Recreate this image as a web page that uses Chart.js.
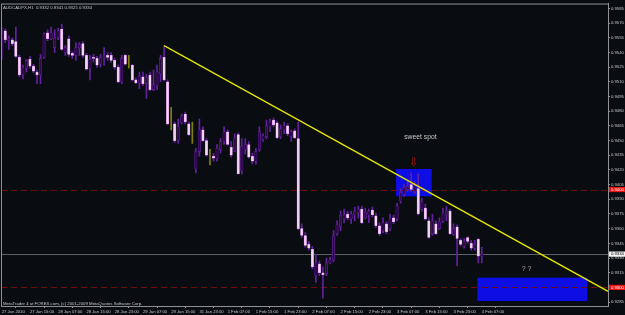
<!DOCTYPE html>
<html><head><meta charset="utf-8">
<script src="https://cdn.jsdelivr.net/npm/chart.js@4.4.1/dist/chart.umd.min.js"></script>
<style>html,body{margin:0;padding:0;background:#090c10;overflow:hidden}canvas{display:block}</style>
</head><body>
<canvas id="c" width="625" height="315"></canvas>
<script>
const chartTitle = "AUDCADPX,H1  0.9332 0.9341 0.9325 0.9334";
const copyright = "MetaTrader 4 at FOREX.com, (c) 2001-2009 MetaQuotes Software Corp.";
const timeLabels = ["27 Jan 2010","27 Jan 15:00","28 Jan 07:00","28 Jan 15:00","28 Jan 23:00","29 Jan 07:00","29 Jan 15:00","31 Jan 23:00","1 Feb 07:00","1 Feb 15:00","1 Feb 23:00","2 Feb 07:00","2 Feb 15:00","2 Feb 23:00","3 Feb 07:00","3 Feb 15:00","3 Feb 23:00","4 Feb 07:00"];
const timeLabelBars = [0,8,16,24,32,40,48,56,64,72,80,88,96,104,112,120,128,136];
const priceTicks = ["0.9585","0.9570","0.9555","0.9540","0.9525","0.9510","0.9495","0.9480","0.9465","0.9450","0.9435","0.9420","0.9405","0.9390","0.9375","0.9360","0.9345","0.9330","0.9315","0.9300","0.9285"];

const opens = [.9540,.9562,.9552,.9553,.9551,.9535,.9517,.9524,.9533,.9526,
.9520,.9517,.9535,.9560,.9554,.9545,.9555,.9564,.9540,.9554,
.9539,.9537,.9545,.9549,.9537,.9524,.9535,.9534,.9528,.9534,
.9537,.9537,.9532,.9525,.9510,.9537,.9530,.9527,.9512,.9509,
.9515,.9508,.9517,.9502,.9506,.9518,.9535,.9510,.9472,.9467,
.9450,.9468,.9477,.9467,.9461,.9421,.9439,.9461,.9450,.9433,
.9434,.9432,.9441,.9449,.9459,.9443,.9439,.9456,.9419,.9441,
.9446,.9434,.9429,.9441,.9451,.9454,.9464,.9471,.9468,.9454,
.9461,.9465,.9454,.9460,.9452,.9360,.9353,.9344,.9339,.9312,
.9324,.9315,.9314,.9325,.9328,.9355,.9362,.9370,.9375,.9370,
.9374,.9376,.9380,.9371,.9374,.9379,.9373,.9363,.9358,.9365,
.9360,.9371,.9370,.9388,.9395,.9400,.9405,.9398,.9401,.9380,
.9381,.9368,.9355,.9365,.9360,.9368,.9374,.9378,.9354,.9362,
.9348,.9342,.9351,.9345,.9340,.9349,.9332];
const highs = [.9566,.9564,.9557,.9555,.9566,.9537,.9527,.9533,.9536,.9528,
.9522,.9538,.9560,.9563,.9566,.9563,.9565,.9569,.9547,.9557,
.9541,.9550,.9550,.9551,.9539,.9537,.9538,.9536,.9538,.9545,
.9540,.9540,.9534,.9527,.9537,.9538,.9537,.9528,.9514,.9520,
.9520,.9518,.9520,.9522,.9527,.9537,.9547,.9512,.9484,.9469,
.9472,.9477,.9479,.9469,.9469,.9442,.9472,.9464,.9452,.9441,
.9437,.9446,.9452,.9464,.9461,.9449,.9457,.9458,.9452,.9452,
.9449,.9437,.9442,.9464,.9457,.9471,.9472,.9473,.9470,.9466,
.9469,.9467,.9461,.9462,.9469,.9365,.9356,.9347,.9342,.9334,
.9327,.9321,.9330,.9331,.9358,.9368,.9378,.9380,.9378,.9378,
.9382,.9383,.9383,.9381,.9380,.9382,.9376,.9366,.9371,.9367,
.9375,.9374,.9386,.9401,.9405,.9408,.9417,.9408,.9416,.9391,
.9385,.9371,.9375,.9368,.9371,.9381,.9383,.9380,.9365,.9364,
.9350,.9350,.9352,.9348,.9348,.9350,.9341];
const lows = [.9533,.9550,.9543,.9547,.9535,.9515,.9513,.9520,.9524,.9519,
.9508,.9508,.9534,.9552,.9553,.9540,.9553,.9542,.9537,.9536,
.9534,.9532,.9537,.9535,.9522,.9512,.9530,.9525,.9525,.9527,
.9532,.9530,.9523,.9509,.9508,.9527,.9524,.9511,.9508,.9503,
.9506,.9493,.9501,.9501,.9502,.9510,.9511,.9466,.9461,.9448,
.9447,.9467,.9467,.9455,.9447,.9417,.9434,.9449,.9434,.9425,
.9429,.9429,.9437,.9446,.9445,.9433,.9439,.9416,.9416,.9436,
.9432,.9426,.9426,.9439,.9449,.9452,.9459,.9464,.9452,.9452,
.9457,.9455,.9449,.9452,.9359,.9351,.9341,.9338,.9319,.9305,
.9312,.9289,.9312,.9324,.9326,.9353,.9358,.9366,.9369,.9365,
.9368,.9371,.9365,.9370,.9366,.9372,.9361,.9353,.9356,.9355,
.9358,.9365,.9368,.9386,.9393,.9398,.9398,.9396,.9374,.9378,
.9369,.9350,.9353,.9354,.9359,.9366,.9368,.9354,.9353,.9322,
.9342,.9340,.9345,.9338,.9338,.9325,.9325];
const closes = [.9560,.9553,.9554,.9549,.9536,.9517,.9524,.9532,.9526,.9521,
.9517,.9534,.9559,.9554,.9560,.9555,.9562,.9543,.9545,.9538,
.9537,.9545,.9548,.9537,.9523,.9533,.9534,.9527,.9535,.9536,
.9535,.9532,.9525,.9510,.9534,.9528,.9530,.9512,.9509,.9516,
.9508,.9514,.9502,.9507,.9520,.9534,.9512,.9467,.9472,.9450,
.9464,.9475,.9469,.9456,.9461,.9439,.9461,.9450,.9435,.9433,
.9432,.9442,.9449,.9459,.9446,.9435,.9453,.9416,.9444,.9446,
.9433,.9429,.9439,.9459,.9455,.9465,.9469,.9466,.9453,.9462,
.9465,.9457,.9459,.9453,.9360,.9353,.9343,.9340,.9321,.9325,
.9315,.9313,.9325,.9328,.9353,.9364,.9374,.9374,.9371,.9375,
.9378,.9380,.9366,.9377,.9378,.9374,.9363,.9355,.9366,.9357,
.9370,.9367,.9383,.9397,.9402,.9403,.9400,.9404,.9375,.9388,
.9370,.9351,.9368,.9355,.9367,.9376,.9378,.9355,.9360,.9350,
.9344,.9347,.9347,.9340,.9344,.9332,.9334];

const trendLine = [{x:46, y:0.9547},{x:171.75, y:0.9296}];
const boxes = [{x0:111.7, x1:121.8, top:0.9421, bottom:0.9393},{x0:134.7, x1:165.9, top:0.9310, bottom:0.9286}];
const levels = [{price:0.9400, label:"0.9400", kind:"red"},{price:0.9300, label:"0.9300", kind:"red"},{price:0.9334, label:"0.9334", kind:"bid"}];
const notes = [{text:"sweet spot", x:118.6, y:0.94533, size:6.8, color:"#c4c4c4", font:"Liberation Sans"},
               {text:"\u21E9", x:116.8, y:0.94274, size:12, color:"#b01010", font:"DejaVu Sans"},
               {text:"? ?", x:148.7, y:0.93185, size:7, color:"#a8a8a8", font:"Liberation Sans"}];

const BG = '#090c10', FRAME = '#8e9296', TXT = '#c6c6c6';
const isDoji = i => opens[i] === closes[i];
const isDown = i => closes[i] < opens[i];

const barIdx = opens.map((_, i) => i);
const wickData = barIdx.map(i => ({x:i, y:[lows[i], highs[i]]}));
const bodyData = barIdx.map(i => ({x:i, y:[opens[i], closes[i]]}));

const mt4 = {
  id:'mt4',
  beforeDraw(chart){
    const c = chart.ctx; c.save(); c.fillStyle = BG; c.fillRect(0,0,chart.width,chart.height); c.restore();
  },
  beforeDatasetsDraw(chart){
    const c = chart.ctx, xs = chart.scales.x, ys = chart.scales.y, a = chart.chartArea;
    c.save();
    c.fillStyle = '#0d0de4';
    boxes.forEach(b => {
      const x0 = xs.getPixelForValue(b.x0), x1 = xs.getPixelForValue(b.x1);
      const y0 = ys.getPixelForValue(b.top), y1 = ys.getPixelForValue(b.bottom);
      c.fillRect(x0, y0, x1-x0, y1-y0);
    });
    levels.forEach(l => {
      const y = Math.round(ys.getPixelForValue(l.price)) + 0.5;
      c.beginPath();
      if (l.kind === 'red') { c.strokeStyle = '#700a0a'; c.setLineDash([6,4]); }
      else { c.strokeStyle = '#5c6268'; c.setLineDash([]); }
      c.lineWidth = 1;
      c.moveTo(a.left, y); c.lineTo(a.right, y); c.stroke();
    });
    c.restore();
  },
  afterDatasetsDraw(chart){
    const c = chart.ctx, xs = chart.scales.x, ys = chart.scales.y;
    c.save();
    c.textAlign = 'center'; c.textBaseline = 'middle';
    notes.forEach(n => {
      c.font = n.size + 'px "' + n.font + '"';
      c.fillStyle = n.color;
      c.fillText(n.text, xs.getPixelForValue(n.x), ys.getPixelForValue(n.y));
    });
    c.restore();
  },
  afterDraw(chart){
    const c = chart.ctx, ys = chart.scales.y, a = chart.chartArea;
    c.save();
    c.strokeStyle = FRAME; c.lineWidth = 1;
    c.strokeRect(a.left + 0.5, a.top + 0.5, a.right - a.left, a.bottom - a.top);
    c.font = '4.2px "Liberation Sans"'; c.textBaseline = 'middle'; c.textAlign = 'left';
    levels.forEach(l => {
      const y = ys.getPixelForValue(l.price);
      c.fillStyle = l.kind === 'red' ? '#f01010' : '#f4f4f4';
      c.fillRect(a.right + 1, y - 2.6, chart.width - a.right - 1, 5.2);
      c.fillStyle = l.kind === 'red' ? '#ffffff' : '#000000';
      c.fillText(l.label, a.right + 3, y);
    });
    c.fillStyle = TXT;
    c.font = '4.3px "Liberation Sans"';
    c.fillText(chartTitle, a.left + 2, a.top + 4);
    c.fillText(copyright, a.left + 2, a.bottom - 2.5);
    c.restore();
  }
};

new Chart(document.getElementById('c'), {
  type:'bar',
  data:{
    datasets:[
      {type:'line', data:trendLine, borderColor:'#e4e400', borderWidth:1.3, pointRadius:0, order:0, tension:0},
      {type:'bar', data:bodyData, grouped:false, barThickness:2.5, borderSkipped:false, order:1,
        backgroundColor: ctx => isDoji(ctx.dataIndex) ? 'rgba(0,0,0,0)' : (isDown(ctx.dataIndex) ? '#f5d6f7' : '#2e0a4c'),
        borderColor: ctx => isDoji(ctx.dataIndex) ? 'rgba(0,0,0,0)' : (isDown(ctx.dataIndex) ? '#cf82e2' : '#6e24a8'),
        borderWidth:0.5},
      {type:'bar', data:wickData, grouped:false, barThickness:1, order:2, borderWidth:0,
        backgroundColor: ctx => isDoji(ctx.dataIndex) ? '#80800f' : '#6420a2'}
    ]
  },
  options:{
    responsive:false, devicePixelRatio:1, animation:false,
    layout:{padding:{left:1, top:1, right:0, bottom:0}},
    plugins:{legend:{display:false}, tooltip:{enabled:false}},
    scales:{
      x:{type:'linear', min:-0.2, max:171.75, offset:false,
        afterBuildTicks: s => { s.ticks = timeLabelBars.map(v => ({value:v})); },
        afterFit: s => { s.height = 9; },
        ticks:{callback:(v,i) => timeLabels[i], autoSkip:false, maxRotation:0, minRotation:0, align:'start',
          font:{family:'Liberation Sans', size:4.2}, color:TXT, padding:1},
        grid:{drawOnChartArea:false, drawTicks:true, tickLength:2, color:FRAME},
        border:{display:true, color:FRAME}},
      y:{type:'linear', position:'right', min:0.9281, max:0.9590,
        afterBuildTicks: s => { s.ticks = priceTicks.map(t => ({value:parseFloat(t)})); },
        afterFit: s => { s.width = 17; },
        ticks:{callback:(v,i) => priceTicks[i], autoSkip:false, font:{family:'Liberation Sans', size:4.2}, color:TXT, padding:1},
        grid:{drawOnChartArea:false, drawTicks:true, tickLength:2, color:FRAME},
        border:{display:true, color:FRAME}}
    }
  },
  plugins:[mt4]
});
</script>
</body></html>
